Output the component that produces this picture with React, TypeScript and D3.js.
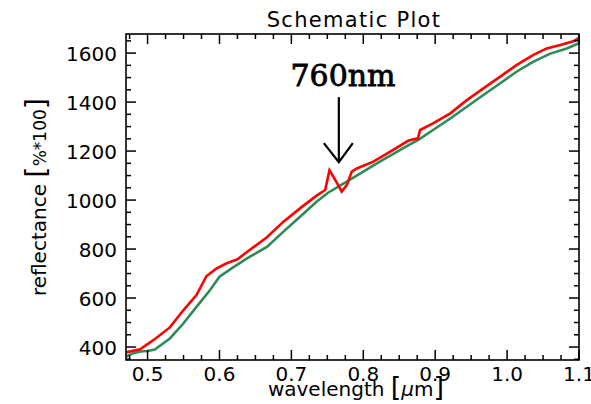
import React from "react";
import * as d3 from "d3";

const redWave = [0.47, 0.4895, 0.508, 0.531, 0.55, 0.568, 0.582, 0.596, 0.61, 0.625, 0.64, 0.666, 0.689, 0.712, 0.735, 0.747, 0.753, 0.761, 0.77, 0.777, 0.784, 0.791, 0.814, 0.837, 0.863, 0.876, 0.879, 0.897, 0.921, 0.944, 0.967, 0.99, 1.013, 1.036, 1.055, 1.074, 1.092, 1.1];
const redRefl = [378, 391, 428, 480, 551, 612, 690, 721, 742, 758, 792, 848, 912, 966, 1018, 1041, 1122, 1082, 1034, 1061, 1116, 1129, 1157, 1197, 1243, 1252, 1286, 1313, 1354, 1408, 1456, 1503, 1551, 1592, 1619, 1633, 1648, 1662];

const greenWave = [0.47, 0.48, 0.49, 0.5, 0.51, 0.531, 0.55, 0.568, 0.587, 0.6, 0.619, 0.64, 0.666, 0.689, 0.712, 0.735, 0.751, 0.777, 0.8, 0.823, 0.863, 0.876, 0.897, 0.921, 0.944, 0.967, 0.99, 1.013, 1.036, 1.06, 1.083, 1.1];
const greenRefl = [360, 375, 382, 384, 390, 435, 497, 564, 633, 687, 725, 765, 809, 871, 932, 993, 1030, 1075, 1116, 1157, 1224, 1245, 1286, 1333, 1381, 1429, 1476, 1524, 1564, 1598, 1619, 1640];

const xMajor = [0.5, 0.6, 0.7, 0.8, 0.9, 1.0, 1.1];
const xMajorLabels = ["0.5", "0.6", "0.7", "0.8", "0.9", "1.0", "1.1"];
const yMajor = [400, 600, 800, 1000, 1200, 1400, 1600];

const W = 591, H = 404;
const L = 126, R = 579, T = 34, B = 360;
const FONT = "'DejaVu Sans', sans-serif";

export default function App() {
  const x = d3.scaleLinear().domain([0.47, 1.1]).range([L, R]);
  const y = d3.scaleLinear().domain([347, 1678]).range([B, T]);

  const xMinor = d3.range(0.475, 1.1001, 0.025).filter(v => !xMajor.some(m => Math.abs(m - v) < 1e-6));
  const yMinor = d3.range(350, 1678, 50).filter(v => !yMajor.includes(v));

  const line = d3.line<[number, number]>().x(d => x(d[0])).y(d => y(d[1]));
  const redPath = line(redWave.map((w, i) => [w, redRefl[i]] as [number, number])) || "";
  const greenPath = line(greenWave.map((w, i) => [w, greenRefl[i]] as [number, number])) || "";

  const major = 10, minor = 5;
  const arrowX = x(0.766);
  const arrowTop = y(1420);
  const arrowTip = y(1155);

  return (
    <svg width={W} height={H} style={{ position: "absolute", left: 0, top: 0, background: "#fff" }}>
      <rect x={0} y={0} width={W} height={H} fill="#fff" />
      <defs>
        <clipPath id="clip"><rect x={L} y={T - 6} width={R - L + 2} height={B - T + 6} /></clipPath>
      </defs>
      <g clipPath="url(#clip)">
        <path d={greenPath} fill="none" stroke="#2e8b57" strokeWidth={2.6} />
        <path d={redPath} fill="none" stroke="#ff0000" strokeWidth={2.6} />
      </g>
      <rect x={L} y={T} width={R - L} height={B - T} fill="none" stroke="#000" strokeWidth={1.6} />
      {xMajor.map(v => (
        <g key={"xM" + v}>
          <line x1={x(v)} x2={x(v)} y1={B} y2={B - major} stroke="#000" strokeWidth={1.5} />
          <line x1={x(v)} x2={x(v)} y1={T} y2={T + major} stroke="#000" strokeWidth={1.5} />
        </g>
      ))}
      {xMinor.map(v => (
        <g key={"xm" + v}>
          <line x1={x(v)} x2={x(v)} y1={B} y2={B - minor} stroke="#000" strokeWidth={1.5} />
          <line x1={x(v)} x2={x(v)} y1={T} y2={T + minor} stroke="#000" strokeWidth={1.5} />
        </g>
      ))}
      {yMajor.map(v => (
        <g key={"yM" + v}>
          <line x1={L} x2={L + major} y1={y(v)} y2={y(v)} stroke="#000" strokeWidth={1.5} />
          <line x1={R} x2={R - major} y1={y(v)} y2={y(v)} stroke="#000" strokeWidth={1.5} />
        </g>
      ))}
      {yMinor.map(v => (
        <g key={"ym" + v}>
          <line x1={L} x2={L + minor} y1={y(v)} y2={y(v)} stroke="#000" strokeWidth={1.5} />
          <line x1={R} x2={R - minor} y1={y(v)} y2={y(v)} stroke="#000" strokeWidth={1.5} />
        </g>
      ))}
      {xMajor.map((v, i) => (
        <text key={"xl" + v} x={x(v)} y={381} textAnchor="middle" fontFamily={FONT} fontSize={20} fill="#000">{xMajorLabels[i]}</text>
      ))}
      {yMajor.map(v => (
        <text key={"yl" + v} x={117} y={y(v) + 7.5} textAnchor="end" fontFamily={FONT} fontSize={20} fill="#000">{v}</text>
      ))}
      <text x={354} y={27} textAnchor="middle" fontFamily={FONT} fontSize={21} letterSpacing={1.3} fill="#000">Schematic Plot</text>
      <text x={356} y={396} textAnchor="middle" fontFamily={FONT} fontSize={20} fill="#000">
        wavelength <tspan fontSize={27}>[</tspan><tspan fontStyle="italic">μ</tspan>m<tspan fontSize={27}>]</tspan>
      </text>
      <text transform="translate(46,197) rotate(-90)" textAnchor="middle" fontFamily={FONT} fontSize={20} fill="#000">
        reflectance <tspan fontSize={29}>[</tspan><tspan fontSize={17}>%*100</tspan><tspan fontSize={29}>]</tspan>
      </text>
      <text x={343} y={86} textAnchor="middle" fontFamily="'DejaVu Serif', serif" fontSize={30} stroke="#000" strokeWidth={0.8} fill="#000">760nm</text>
      <line x1={arrowX} x2={arrowX} y1={arrowTop} y2={arrowTip} stroke="#000" strokeWidth={2.2} />
      <polyline points={`${arrowX - 15},${arrowTip - 19} ${arrowX},${arrowTip} ${arrowX + 14},${arrowTip - 19}`} fill="none" stroke="#000" strokeWidth={2.2} />
    </svg>
  );
}
